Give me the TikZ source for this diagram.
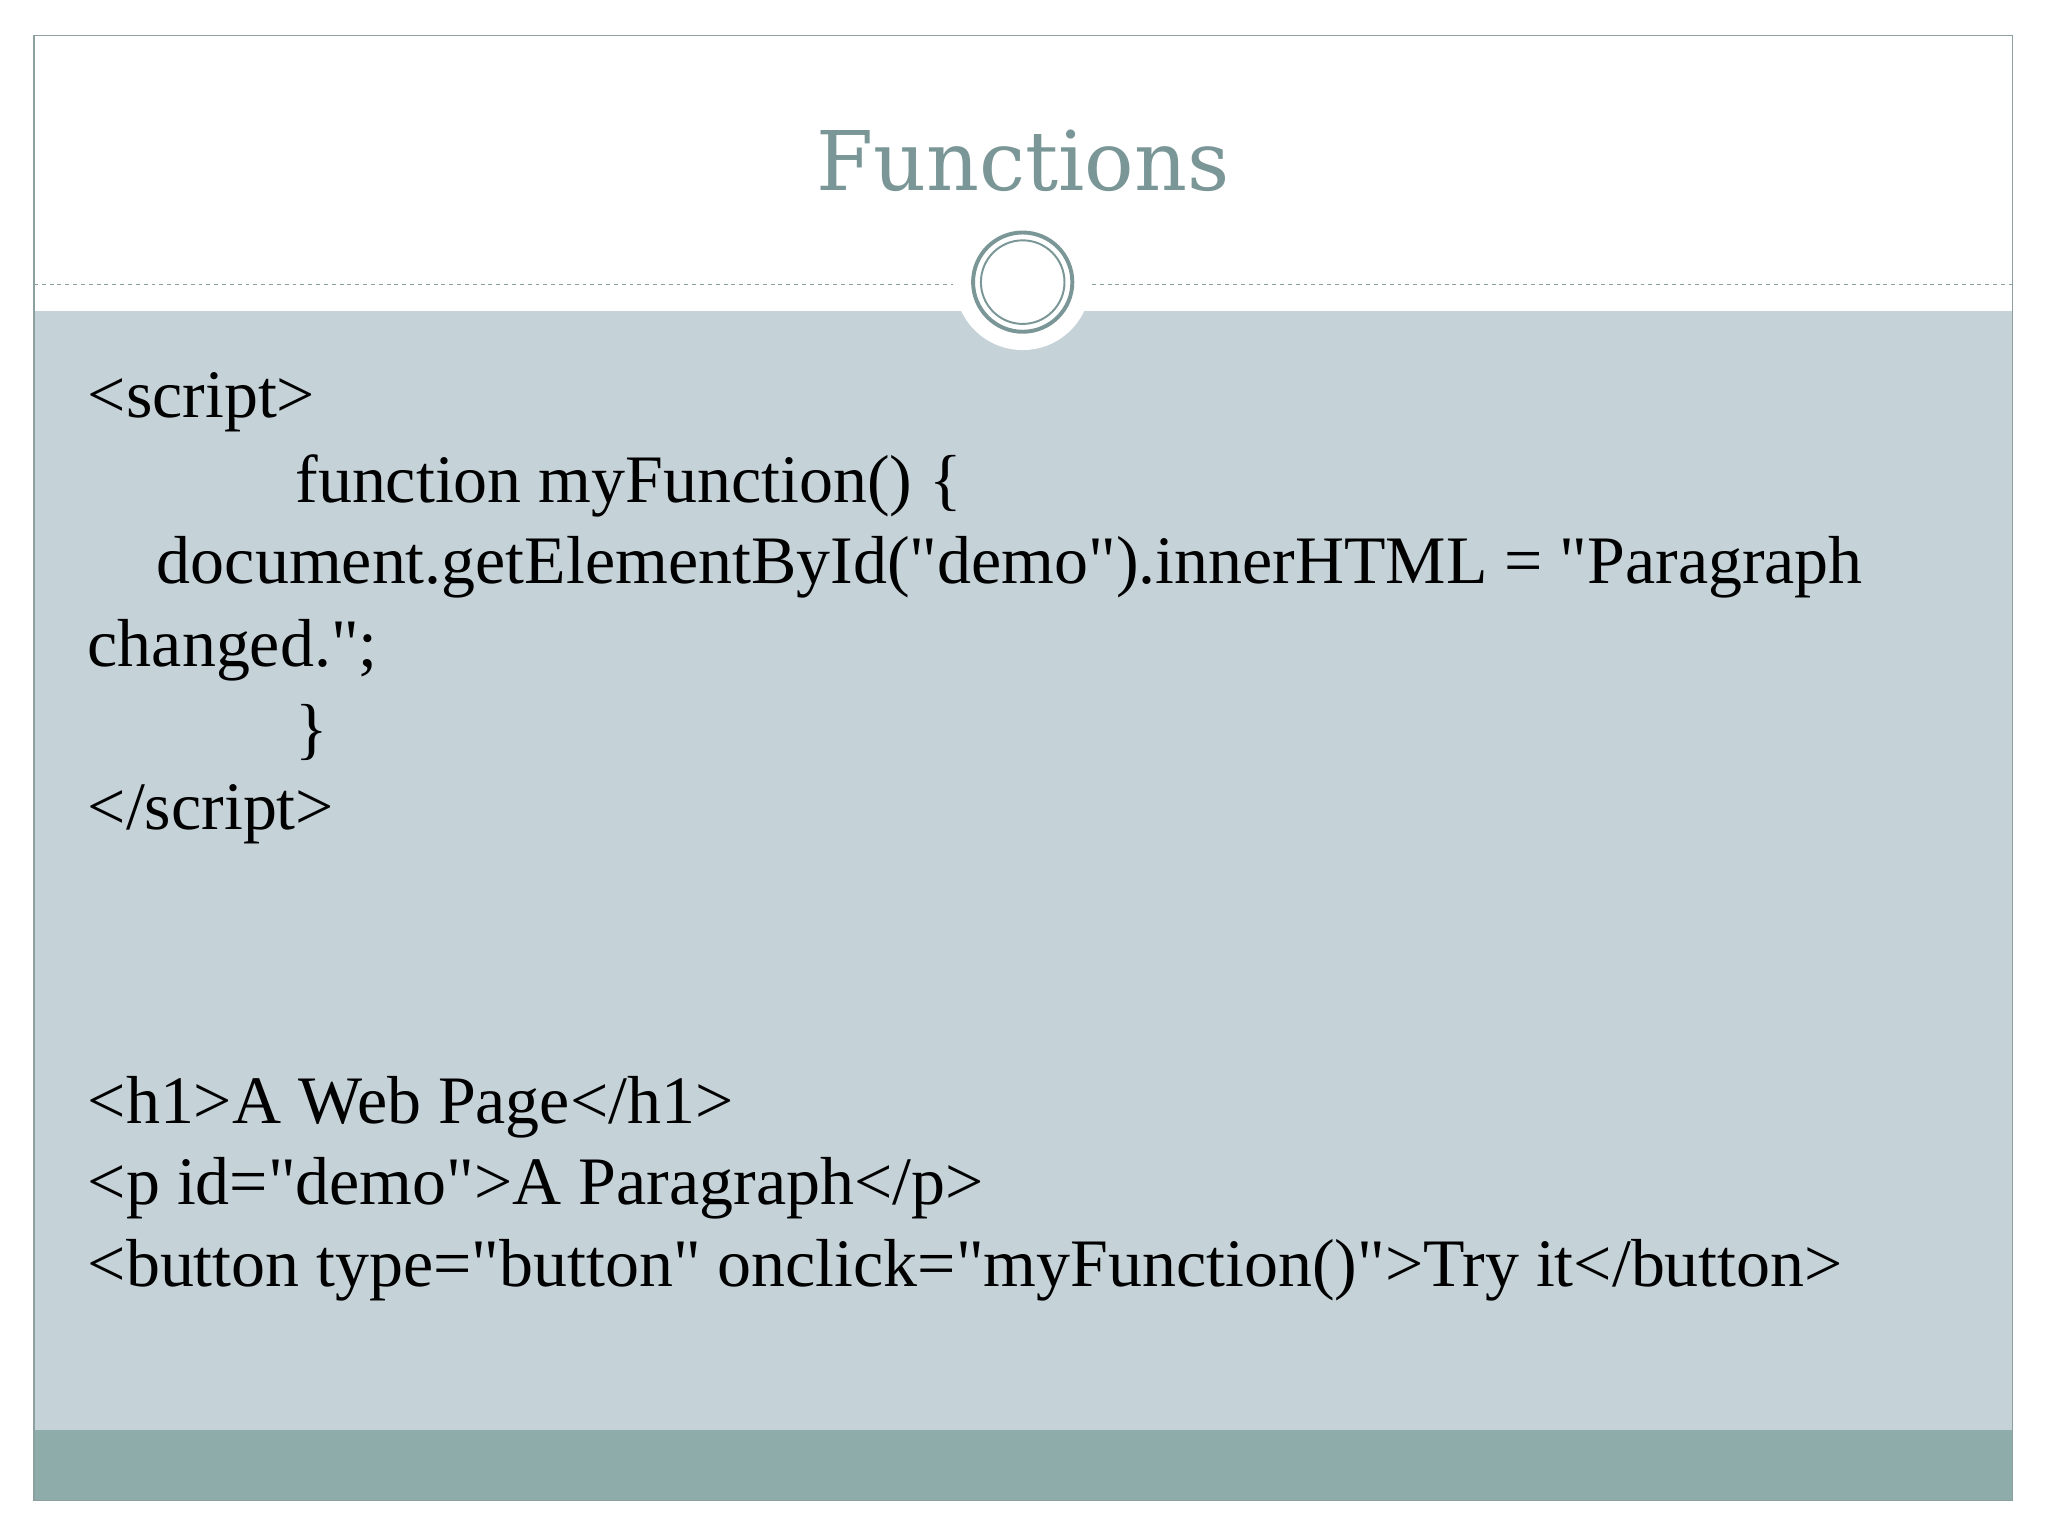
\documentclass[tikz,border=0pt]{standalone}
\usepackage{fontspec}
\setmainfont{Liberation Serif}[Ligatures=TeXOff]
\newfontfamily\titlefont{DejaVu Serif}
\definecolor{bodybg}{RGB}{197,210,216}
\definecolor{bandbg}{RGB}{141,172,170}
\definecolor{titlec}{RGB}{122,150,150}
\definecolor{edgec}{RGB}{140,160,160}
\tikzset{code/.style={anchor=base west,inner sep=0pt,font=\fontsize{52}{56}\selectfont}}
\begin{document}
\begin{tikzpicture}[x=1pt,y=-1pt]
\useasboundingbox (0,0) rectangle (1568,1176);
\fill[white] (0,0) rectangle (1568,1176);
\fill[bodybg] (26,238) rectangle (1541,1095);
\fill[bandbg] (26,1095) rectangle (1541,1149);
\draw[edgec,line width=1pt] (26,27) rectangle (1541,1149);
\draw[edgec,dashed,line width=0.8pt] (26,218) -- (730,218);
\draw[edgec,dashed,line width=0.8pt] (836,218) -- (1541,218);
\fill[white] (783,216) circle (52);
\draw[titlec,line width=3pt] (783,216) circle (38);
\draw[titlec,line width=1.5pt] (783,216) circle (32);
\node[anchor=base,inner sep=0pt,text=titlec,font=\titlefont\fontsize{63}{66}\selectfont] (title) at (783,146) {Functions};
\node[code] (l1) at (67,320) {<script>};
\node[code] (l2) at (226,385) {function myFunction() \{};
\node[code] (l3) at (120,447) {document.getElementById("demo").innerHTML = "Paragraph};
\node[code] (l4) at (67,510) {changed.";};
\node[code] (l5) at (226,575) {\}};
\node[code] (l6) at (67,635) {</script>};
\node[code] (l7) at (67,860) {<h1>A Web Page</h1>};
\node[code] (l8) at (67,922) {<p id="demo">A Paragraph</p>};
\node[code] (l9) at (67,985) {<button type="button" onclick="myFunction()">Try it</button>};
\end{tikzpicture}
\end{document}
